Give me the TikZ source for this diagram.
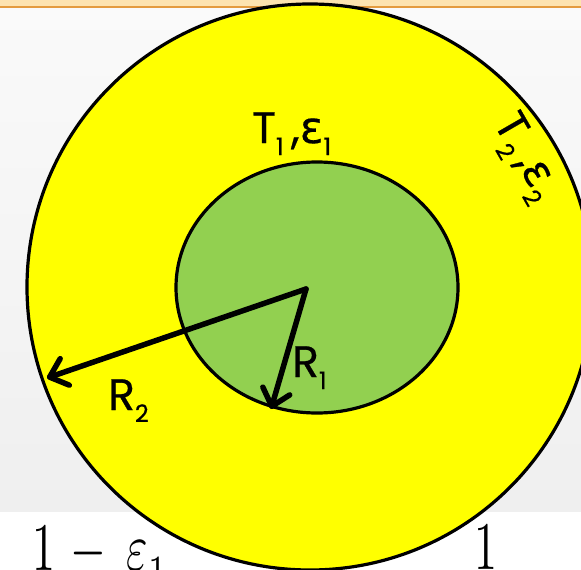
\documentclass[tikz,border=0pt]{standalone}
\usepackage{fontspec}
\setmainfont{Poppins}[FakeBold=0.6]
\newfontfamily\grk{DejaVu Sans}[FakeBold=0.4]
\usetikzlibrary{arrows.meta,shapes.geometric}
\definecolor{peach}{HTML}{FDE3B0}
\definecolor{orangeline}{HTML}{E49B3F}
\definecolor{bgtop}{HTML}{FAFAFA}
\definecolor{bgbot}{HTML}{EFEFEF}
\definecolor{ygreen}{HTML}{92D050}
\definecolor{pyellow}{HTML}{FFFF00}
\newcommand\sbs[1]{\raisebox{-12pt}{\fontsize{24}{24}\selectfont #1}}
\begin{document}
\begin{tikzpicture}[x=1pt,y=-1pt,
  lbl/.style={inner sep=0pt, font=\fontsize{44}{44}\selectfont},
  radius arrow/.style={line width=5.5pt, line cap=round, line join=round,
    -{Straight Barb[length=16pt,width=28pt,line cap=round,line join=round]}},
  eqn/.style={inner sep=0pt, anchor=base west}]
\clip (0,0) rectangle (581,570);
% background
\shade[top color=bgtop, bottom color=bgbot] (0,7) rectangle (581,512);
\fill[white] (0,512) rectangle (581,570);
\fill[peach] (0,0) rectangle (581,6);
\fill[orangeline] (0,5.5) rectangle (581,8);
% bottom equation fragments
\node[eqn] (eqa) at (32,570) {\scalebox{4.6}[6.8]{$1\mskip2mu-\mskip4mu\varepsilon_{\lower1.2pt\hbox{$\scriptstyle 1$}}$}};
\node[eqn] (eqb) at (474,569) {\scalebox{4.6}[6.8]{$1$}};
% shells
\node[circle, draw=black, fill=pyellow, line width=3.2pt, minimum size=566pt, inner sep=0pt] (outer) at (310,287) {};
\node[ellipse, draw=black, fill=ygreen, line width=3.2pt, minimum width=282pt, minimum height=251pt, inner sep=0pt] (inner) at (317,287.5) {};
% radii
\coordinate (c) at (306,289);
\coordinate (p2) at (47,378);
\coordinate (p1) at (271,409);
\draw[radius arrow] (c) -- (p2);
\draw[radius arrow] (c) -- (p1);
% labels
\node[lbl, anchor=base west] (t1) at (252,143) {T\sbs{1}\,,{\grk ε}\sbs{1}};
\node[lbl, anchor=base west] (r1) at (292,377) {R\sbs{1}};
\node[lbl, anchor=base west] (r2) at (108,410) {R\sbs{2}};
\node[lbl, rotate=-60, anchor=center] (t2) at (524,158) {T\sbs{2}\,,{\grk ε}\sbs{2}};
\end{tikzpicture}
\end{document}
